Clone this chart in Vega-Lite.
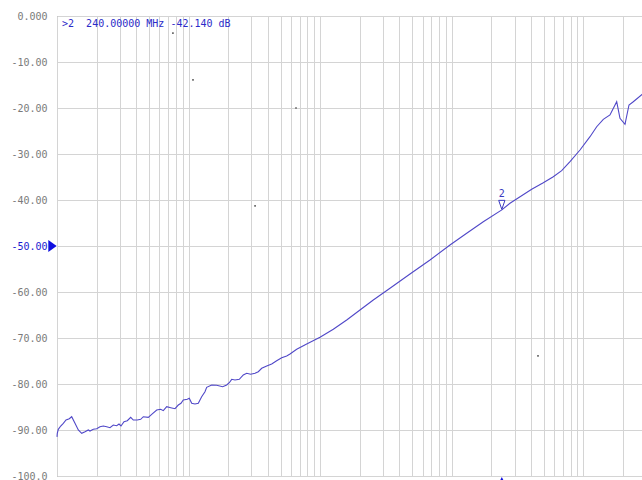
{
  "$schema": "https://vega.github.io/schema/vega-lite/v6.json",
  "autosize": "none",
  "padding": {"left": 57, "top": 16, "right": 0, "bottom": 4},
  "width": 586,
  "height": 460,
  "background": "white",
  "config": {"view": {"stroke": "#8a8a8a", "strokeWidth": 1}},
  "datasets": {
    "curve": [
      {"f": 0.1, "db": -91.5},
      {"f": 0.1005, "db": -90.72},
      {"f": 0.1023, "db": -89.85},
      {"f": 0.1067, "db": -89.13},
      {"f": 0.1117, "db": -88.54},
      {"f": 0.1171, "db": -87.83},
      {"f": 0.124, "db": -87.54},
      {"f": 0.1293, "db": -87.11},
      {"f": 0.137, "db": -88.54},
      {"f": 0.1452, "db": -90.0},
      {"f": 0.1541, "db": -90.72},
      {"f": 0.1633, "db": -90.37},
      {"f": 0.1729, "db": -90.0},
      {"f": 0.1781, "db": -90.22},
      {"f": 0.1887, "db": -89.85},
      {"f": 0.2003, "db": -89.72},
      {"f": 0.2122, "db": -89.28},
      {"f": 0.2248, "db": -89.13},
      {"f": 0.2386, "db": -89.28},
      {"f": 0.2527, "db": -89.5},
      {"f": 0.2678, "db": -88.91},
      {"f": 0.2842, "db": -89.07},
      {"f": 0.2959, "db": -88.7},
      {"f": 0.3065, "db": -89.13},
      {"f": 0.323, "db": -88.2},
      {"f": 0.3421, "db": -87.98},
      {"f": 0.3631, "db": -87.24},
      {"f": 0.3801, "db": -87.83},
      {"f": 0.4075, "db": -87.83},
      {"f": 0.4325, "db": -87.67},
      {"f": 0.4527, "db": -87.11},
      {"f": 0.4941, "db": -87.24},
      {"f": 0.5243, "db": -86.59},
      {"f": 0.5723, "db": -85.65},
      {"f": 0.6138, "db": -85.5},
      {"f": 0.6424, "db": -85.8},
      {"f": 0.6817, "db": -84.93},
      {"f": 0.7311, "db": -85.15},
      {"f": 0.7885, "db": -85.37},
      {"f": 0.835, "db": -84.57},
      {"f": 0.8754, "db": -84.2},
      {"f": 0.9113, "db": -83.48},
      {"f": 0.9774, "db": -83.33},
      {"f": 1.012, "db": -83.11},
      {"f": 1.056, "db": -84.2},
      {"f": 1.118, "db": -84.35},
      {"f": 1.185, "db": -84.2},
      {"f": 1.257, "db": -82.76},
      {"f": 1.332, "db": -81.67},
      {"f": 1.372, "db": -80.72},
      {"f": 1.498, "db": -80.22},
      {"f": 1.635, "db": -80.28},
      {"f": 1.816, "db": -80.59},
      {"f": 1.947, "db": -80.22},
      {"f": 2.038, "db": -79.72},
      {"f": 2.126, "db": -78.98},
      {"f": 2.252, "db": -79.13},
      {"f": 2.429, "db": -78.98},
      {"f": 2.604, "db": -78.04},
      {"f": 2.763, "db": -77.67},
      {"f": 2.964, "db": -77.89},
      {"f": 3.197, "db": -77.67},
      {"f": 3.385, "db": -77.33},
      {"f": 3.594, "db": -76.59},
      {"f": 3.923, "db": -76.09},
      {"f": 4.28, "db": -75.65},
      {"f": 4.67, "db": -74.93},
      {"f": 5.097, "db": -74.28},
      {"f": 5.565, "db": -73.91},
      {"f": 5.896, "db": -73.48},
      {"f": 6.628, "db": -72.46},
      {"f": 7.896, "db": -71.3},
      {"f": 9.966, "db": -69.85},
      {"f": 12.58, "db": -68.11},
      {"f": 15.9, "db": -66.09},
      {"f": 20.06, "db": -63.91},
      {"f": 25.32, "db": -61.74},
      {"f": 33.91, "db": -59.2},
      {"f": 48.13, "db": -56.09},
      {"f": 68.29, "db": -53.04},
      {"f": 96.9, "db": -49.78},
      {"f": 129.8, "db": -47.24},
      {"f": 173.5, "db": -44.72},
      {"f": 240, "db": -42.14},
      {"f": 276.8, "db": -40.72},
      {"f": 404.7, "db": -37.67},
      {"f": 495.8, "db": -36.24},
      {"f": 590.7, "db": -34.93},
      {"f": 684.0, "db": -33.63},
      {"f": 791.1, "db": -31.67},
      {"f": 942.3, "db": -29.13},
      {"f": 1123, "db": -26.24},
      {"f": 1262, "db": -24.07},
      {"f": 1417, "db": -22.46},
      {"f": 1592, "db": -21.52},
      {"f": 1791, "db": -18.63},
      {"f": 1897, "db": -22.24},
      {"f": 2071, "db": -23.54},
      {"f": 2221, "db": -19.35},
      {"f": 2394, "db": -18.63},
      {"f": 2838, "db": -16.9}
    ],
    "dots": [
      {"f": 0.76, "db": -3.7},
      {"f": 1.08, "db": -13.9},
      {"f": 6.55, "db": -20.0},
      {"f": 3.2, "db": -41.3},
      {"f": 452, "db": -73.9}
    ],
    "marker": [
      {"f": 240, "db": -42.14, "label": "2", "readout": ">2\u00a0\u00a0240.00000 MHz -42.140 dB", "rf": 0.1092, "rdb": -1.74}
    ],
    "ref": [
      {"f": 0.1, "db": -50}
    ]
  },
  "encoding": {
    "x": {
      "field": "f",
      "type": "quantitative",
      "scale": {"type": "log", "domain": [0.1, 2838], "nice": false, "zero": false},
      "axis": {
        "title": null,
        "labels": false,
        "ticks": false,
        "domain": false,
        "grid": true,
        "gridColor": "#d4d4d4",
        "gridWidth": 1,
        "values": [0.1, 0.2, 0.3, 0.4, 0.5, 0.6, 0.7, 0.8, 0.9, 1, 2, 3, 4, 5, 6, 7, 8, 9, 10, 20, 30, 40, 50, 60, 70, 80, 90, 100, 200, 300, 400, 500, 600, 700, 800, 900, 1000, 2000]
      }
    },
    "y": {
      "field": "db",
      "type": "quantitative",
      "scale": {"domain": [-100, 0], "nice": false, "zero": false},
      "axis": {
        "title": null,
        "ticks": false,
        "domain": false,
        "grid": true,
        "gridColor": "#d4d4d4",
        "gridWidth": 1,
        "values": [0, -10, -20, -30, -40, -50, -60, -70, -80, -90, -100],
        "labelExpr": "datum.value == 0 ? '0.000' : (datum.value == -100 ? '-100.0' : '-' + format(abs(datum.value), '.2f'))",
        "labelFont": "DejaVu Sans Mono",
        "labelFontSize": 10,
        "labelPadding": 10,
        "labelColor": {"condition": {"test": "datum.value == -50", "value": "#1a1ad0"}, "value": "#7a7a7a"},
        "labelBound": false,
        "labelFlush": false
      }
    }
  },
  "layer": [
    {
      "data": {"name": "curve"},
      "mark": {"type": "line", "color": "#5048c8", "strokeWidth": 1.1, "interpolate": "linear"}
    },
    {
      "data": {"name": "dots"},
      "mark": {"type": "square", "color": "#444444", "size": 3, "opacity": 0.8}
    },
    {
      "data": {"name": "marker"},
      "mark": {"type": "text", "align": "left", "baseline": "middle", "font": "DejaVu Sans Mono", "fontSize": 10, "color": "#2b2bc8"},
      "encoding": {
        "x": {"field": "rf", "type": "quantitative"},
        "y": {"field": "rdb", "type": "quantitative"},
        "text": {"field": "readout"}
      }
    },
    {
      "data": {"name": "marker"},
      "mark": {"type": "point", "shape": "M -0.7 -1 L 0.7 -1 L 0 1 Z", "filled": false, "size": 81, "strokeWidth": 1, "color": "#3a3ac0", "yOffset": -5, "opacity": 1}
    },
    {
      "data": {"name": "marker"},
      "mark": {"type": "text", "font": "DejaVu Sans Mono", "fontSize": 10, "color": "#3a3ac0", "yOffset": -16, "baseline": "middle"},
      "encoding": {"text": {"field": "label"}}
    },
    {
      "data": {"name": "ref"},
      "mark": {"type": "point", "shape": "M -0.7 -1 L 0.7 0 L -0.7 1 Z", "filled": true, "size": 144, "color": "#1010e0", "xOffset": -4.5, "opacity": 1, "clip": false}
    },
    {
      "data": {"name": "marker"},
      "mark": {"type": "point", "shape": "M -1 1 L 0 -1 L 1 1 Z", "filled": true, "size": 64, "color": "#1010e0", "yOffset": 5, "opacity": 1, "clip": false},
      "encoding": {"y": {"datum": -100}}
    }
  ]
}
